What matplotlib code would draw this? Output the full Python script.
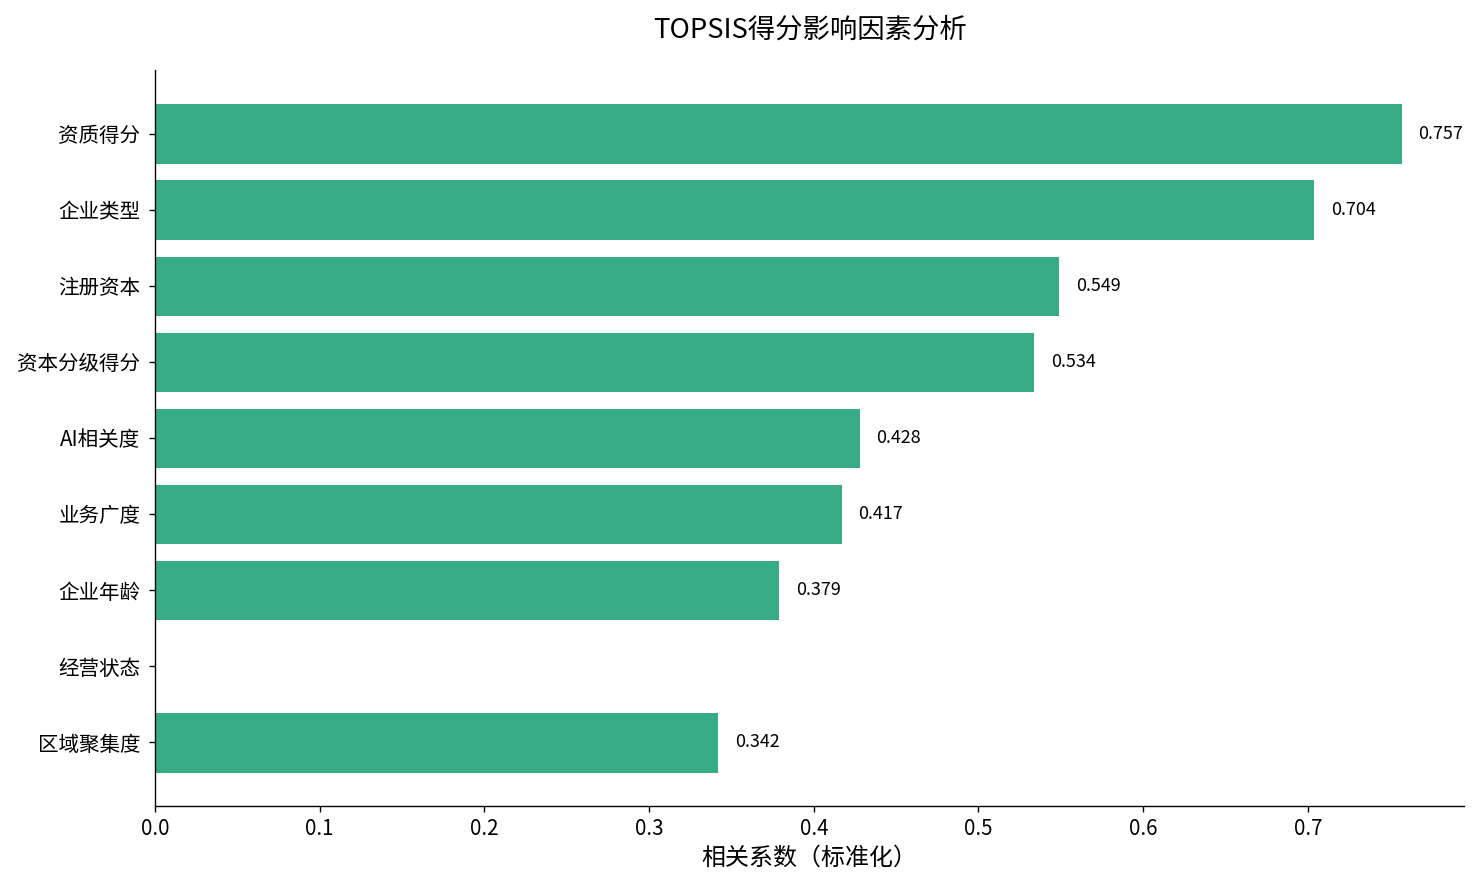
import numpy as np
import matplotlib
matplotlib.use('Agg')
import matplotlib.pyplot as plt

plt.rcParams['font.family'] = ['Noto Sans CJK SC', 'DejaVu Sans']
plt.rcParams['axes.unicode_minus'] = False

factors = ['资质得分', '企业类型', '注册资本', '资本分级得分', 'AI相关度',
           '业务广度', '企业年龄', '经营状态', '区域聚集度']
corr = [0.757, 0.704, 0.549, 0.534, 0.428, 0.417, 0.379, np.nan, 0.342]

fig = plt.figure(figsize=(1479 / 123.25, 885 / 123.25), dpi=123.25)
ax = fig.add_axes([0.1048, 0.0893, 0.8851, 0.8316])

y = np.arange(len(factors))
ax.barh(y, corr, height=0.8, color='#38ab87', edgecolor='white', linewidth=0.6)
ax.set_yticks(y)
ax.set_yticklabels(factors)
ax.invert_yaxis()

for yi, v in zip(y, corr):
    if np.isnan(v):
        continue
    ax.text(v + 0.01, yi, f'{v:.3f}', va='center', ha='left', fontsize=10.5)

ax.set_xlim(0, np.nanmax(corr) * 1.05)
ax.tick_params(axis='both', labelsize=12)
ax.tick_params(axis='y', pad=5)
ax.spines['top'].set_visible(False)
ax.spines['right'].set_visible(False)
ax.set_xlabel('相关系数（标准化）', fontsize=14)
ax.set_title('TOPSIS得分影响因素分析', fontsize=16, pad=19)

fig.savefig('out.png', dpi=123.25)
